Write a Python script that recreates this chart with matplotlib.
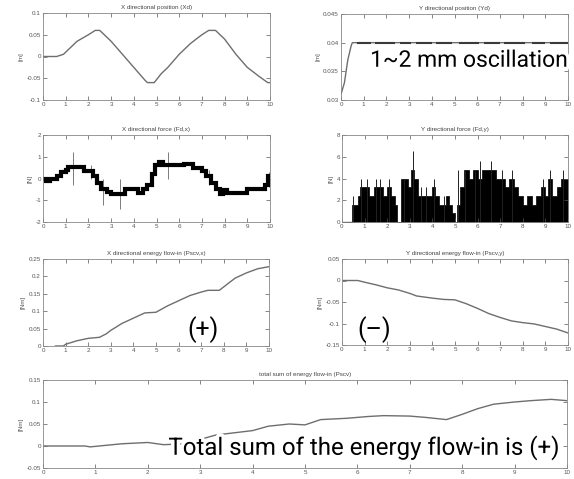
import matplotlib
matplotlib.use("Agg")
import matplotlib.pyplot as plt
import matplotlib.patheffects as pe
import numpy as np

W, H = 574, 479

# ---- data ----
# X directional position
xd_t = [0, 0.6, 0.9, 1.2, 1.5, 2.0, 2.3, 2.5, 3.0, 3.5, 4.0, 4.5, 4.6, 4.9, 5.2, 5.5,
        6.0, 6.5, 7.0, 7.3, 7.6, 8.0, 8.5, 9.0, 9.5, 9.9, 10]
xd_v = [0, 0, 0.005, 0.02, 0.035, 0.05, 0.06, 0.06, 0.035, 0.005, -0.025, -0.055, -0.06,
        -0.06, -0.04, -0.025, 0.005, 0.03, 0.05, 0.06, 0.06, 0.04, 0.005, -0.025, -0.045,
        -0.06, -0.06]

# Y directional position
yd_t = [0, 0.15, 0.3, 0.45, 0.5, 10]
yd_v = [0.031, 0.033, 0.037, 0.0395, 0.04, 0.04]
yd_osc_start = [0.7, 1.5, 2.6, 3.3, 4.2, 5.2, 6.3, 7.2, 8.4, 9.2]
yd_osc_end = [1.3, 2.4, 3.1, 4.0, 4.9, 6.1, 7.0, 8.1, 9.0, 10.0]

# X directional force (step levels)
xf_t = [0, 0.15, 0.3, 0.6, 0.8, 1.0, 1.1, 1.8, 2.2, 2.4, 2.55, 2.8, 3.0, 3.6, 4.2, 4.4,
        4.6, 4.8, 4.95, 5.1, 5.3, 6.2, 6.6, 7.0, 7.2, 7.4, 7.6, 7.8, 7.95, 8.1, 9.0, 9.8,
        9.9, 10]
xf_v = [0, -0.1, 0, 0.1, 0.3, 0.4, 0.55, 0.35, 0.1, -0.2, -0.5, -0.6, -0.7, -0.5, -0.65,
        -0.5, -0.3, 0.2, 0.6, 0.75, 0.6, 0.65, 0.5, 0.35, 0.1, -0.2, -0.5, -0.7, -0.55,
        -0.65, -0.5, -0.3, 0.1, 0.1]
xf_spike_t = [1.3, 2.1, 2.65, 3.4, 5.5, 7.3, 9.95]
xf_spike_lo = [-0.3, 0.0, -1.2, -1.4, 0.0, -0.3, -0.4]
xf_spike_hi = [1.2, 0.6, 0.0, 0.0, 1.2, 0.4, 0.3]

# Y directional force (envelope of the dense signal)
yf_t = [0, 0.45, 0.55, 0.7, 0.8, 1.0, 1.2, 1.4, 1.6, 1.8, 2.0, 2.15, 2.35, 2.45, 2.6, 2.9,
        3.05, 3.2, 3.35, 3.6, 3.8, 4.0, 4.1, 4.3, 4.6, 4.75, 4.85, 5.0, 5.1, 5.2, 5.4, 5.6,
        5.8, 6.0, 6.2, 6.4, 6.8, 7.0, 7.2, 7.4, 7.6, 7.8, 8.0, 8.2, 8.4, 8.6, 8.8, 9.0,
        9.1, 9.3, 9.5, 9.7, 9.9, 10]
yf_v = [0, 1.6, 1.6, 2.4, 3.2, 3.2, 2.4, 3.2, 3.2, 2.4, 3.2, 2.4, 1.6, 0, 4.0, 3.2,
        4.8, 4.0, 2.4, 2.4, 2.4, 3.2, 2.4, 1.6, 2.4, 1.6, 0.8, 0, 1.6, 3.2, 4.8,
        4.0, 4.8, 4.0, 4.8, 4.8, 4.0, 4.0, 3.2, 4.0, 3.2, 2.4, 1.6, 2.4, 1.6, 2.4, 3.2,
        2.4, 4.0, 2.4, 3.2, 4.0, 4.0, 4.0]
yf_spike_t = [0.48, 0.85, 1.1, 1.5, 1.7, 2.1, 2.75, 3.15, 3.5, 3.7, 4.05, 4.5, 5.15,
              5.45, 5.9, 6.1, 6.6, 7.1, 7.5, 8.9, 9.2, 9.8]
yf_spike_v = [2.4, 4.0, 4.0, 4.0, 4.0, 4.0, 4.0, 6.5, 3.2, 3.2, 4.0, 2.4, 4.8,
              4.8, 4.8, 5.6, 5.6, 4.8, 4.8, 4.0, 4.8, 4.8]

# X directional energy flow-in
ex_t = [0.55, 0.9, 1.0, 1.5, 2.0, 2.5, 2.8, 3.0, 3.5, 4.0, 4.5, 5.0, 5.5, 6.0, 6.5, 7.0,
        7.3, 7.8, 8.0, 8.5, 9.0, 9.5, 10]
ex_v = [0, 0, 0.005, 0.015, 0.022, 0.025, 0.035, 0.045, 0.065, 0.08, 0.095, 0.097, 0.115,
        0.13, 0.145, 0.155, 0.16, 0.16, 0.17, 0.195, 0.21, 0.222, 0.228]

# Y directional energy flow-in
ey_t = [0, 0.7, 1.0, 1.5, 2.0, 2.5, 3.0, 3.3, 4.0, 4.5, 5.0, 5.5, 6.0, 6.5, 7.0, 7.5,
        8.0, 8.5, 9.0, 9.5, 10]
ey_v = [0, 0, -0.004, -0.01, -0.017, -0.022, -0.03, -0.036, -0.041, -0.044, -0.045,
        -0.054, -0.065, -0.077, -0.086, -0.094, -0.098, -0.101, -0.107, -0.113, -0.122]

# total sum of energy flow-in
es_t = [0, 0.8, 0.9, 1.5, 2.0, 2.3, 2.7, 3.0, 3.3, 4.0, 4.3, 4.7, 5.0, 5.3, 5.8, 6.2,
        6.5, 7.0, 7.3, 7.7, 8.0, 8.3, 8.6, 9.0, 9.3, 9.7, 10]
es_v = [0, 0, -0.002, 0.005, 0.008, 0.003, 0.005, 0.015, 0.025, 0.035, 0.045, 0.05,
        0.048, 0.06, 0.063, 0.067, 0.069, 0.068, 0.065, 0.06, 0.072, 0.085, 0.095, 0.1,
        0.103, 0.106, 0.103]

xticks = list(range(0, 11))
line_col = "#6e6e6e"
small_font = ["Liberation Sans Narrow", "Liberation Sans", "DejaVu Sans"]
big_font = ["Roboto", "DejaVu Sans"]
halo = [pe.withStroke(linewidth=5, foreground="white")]


def make_ax(box, title, ylabel, ylim, yticks, yticklabels):
    l, t, r, b = box
    ax = fig.add_axes([l / W, 1 - b / H, (r - l) / W, (b - t) / H])
    ax.set_xlim(0, 10)
    ax.set_ylim(*ylim)
    ax.set_xticks(xticks)
    ax.set_xticklabels([str(v) for v in xticks], family=small_font[1:])
    ax.set_yticks(yticks)
    ax.set_yticklabels(yticklabels, family=small_font[1:])
    ax.tick_params(direction="in", top=True, right=True, labelsize=4.5, length=3,
                   width=0.5, colors="#555555", pad=1.5)
    for s in ax.spines.values():
        s.set_color("#888888")
        s.set_linewidth(0.6)
    ax.set_title(title, fontsize=4.5, color="#444444", pad=3, family=small_font)
    ax.set_ylabel(ylabel, fontsize=4.5, color="#555555", labelpad=2, family=small_font)
    return ax


fig = plt.figure(figsize=(W / 100, H / 100), dpi=100)

# X position
ax1 = make_ax((43, 13, 270, 100), "X directional position (Xd)", "[m]", (-0.1, 0.1),
              [-0.1, -0.05, 0, 0.05, 0.1], ["-0.1", "-0.05", "0", "0.05", "0.1"])
ax1.plot(xd_t, xd_v, color=line_col, lw=1.0)

# Y position
ax2 = make_ax((341, 14, 568, 100), "Y directional position (Yd)", "[m]", (0.03, 0.045),
              [0.03, 0.035, 0.04, 0.045], ["0.03", "0.035", "0.04", "0.045"])
ax2.plot(yd_t, yd_v, color=line_col, lw=1.0)
ax2.hlines([0.04] * len(yd_osc_start), yd_osc_start, yd_osc_end, color="#3a3a3a", lw=1.5)
t2 = ax2.text(1.28, 0.0358, "1~2 mm oscillation", fontsize=16.5, family=big_font,
              color="black", va="baseline", ha="left", zorder=5, path_effects=halo)
t2.set_clip_on(False)

# X force
ax3 = make_ax((43, 135, 270, 222), "X directional force (Fd,x)", "[N]", (-2, 2),
              [-2, -1, 0, 1, 2], ["-2", "-1", "0", "1", "2"])
ax3.vlines(xf_spike_t, xf_spike_lo, xf_spike_hi, color="#666666", lw=0.6)
ax3.step(xf_t, xf_v, where="post", color="black", lw=3.0, solid_joinstyle="miter")

# Y force
ax4 = make_ax((342, 135, 568, 222), "Y directional force (Fd,y)", "[N]", (0, 8),
              [0, 2, 4, 6, 8], ["0", "2", "4", "6", "8"])
ax4.fill_between(yf_t, 0, yf_v, step="post", color="black", lw=0.5, edgecolor="black",
                 antialiased=False)
ax4.vlines(yf_spike_t, 0, yf_spike_v, color="#222222", lw=0.7)
ax4.plot([0, 0.45], [0, 0], color=line_col, lw=1.0)

# X energy
ax5 = make_ax((43, 259, 269, 346), "X directional energy flow-in (Pscv,x)", "[Nm]",
              (0, 0.25), [0, 0.05, 0.1, 0.15, 0.2, 0.25],
              ["0", "0.05", "0.1", "0.15", "0.2", "0.25"])
ax5.plot(ex_t, ex_v, color=line_col, lw=1.0)
ax5.text(7.1, 0.046, "(+)", fontsize=18, family=big_font, ha="center", va="center")

# Y energy
ax6 = make_ax((342, 259, 568, 345), "Y directional energy flow-in (Pscv,y)", "[Nm]",
              (-0.15, 0.05), [-0.15, -0.1, -0.05, 0, 0.05],
              ["-0.15", "-0.1", "-0.05", "0", "0.05"])
ax6.plot(ey_t, ey_v, color=line_col, lw=1.0)
ax6.text(1.44, -0.114, "(\u2013)", fontsize=18, family=big_font, ha="center",
         va="center")

# total sum
ax7 = make_ax((43, 380, 567, 468), "total sum of energy flow-in (Pscv)", "[Nm]",
              (-0.05, 0.15), [-0.05, 0, 0.05, 0.1, 0.15],
              ["-0.05", "0", "0.05", "0.1", "0.15"])
ax7.plot(es_t, es_v, color=line_col, lw=1.0)
t7 = ax7.text(9.87, -0.02, "Total sum of the energy flow-in is (+)", fontsize=17.3,
              family=big_font, ha="right", va="baseline", zorder=5, path_effects=halo)
t7.set_clip_on(False)

fig.savefig("out.png", dpi=100)
